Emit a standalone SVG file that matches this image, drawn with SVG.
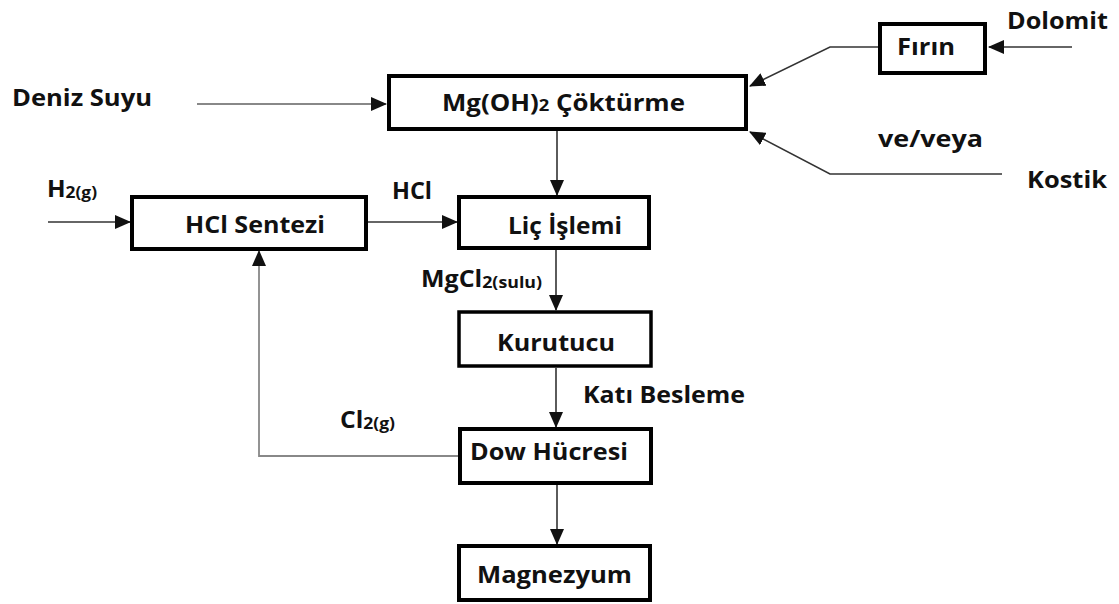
<svg xmlns="http://www.w3.org/2000/svg" width="1119" height="604" viewBox="0 0 1119 604">
<style>
.box{fill:#fff;stroke:#000;stroke-width:4}
.t{font-family:"Open Sans","Liberation Sans",sans-serif;font-weight:bold;font-size:22.5px;fill:#111}
.c{fill:none;stroke:#333;stroke-width:1.6}
.g{fill:none;stroke:#888;stroke-width:1.8}
</style>
<defs>
<marker id="ah" markerUnits="userSpaceOnUse" markerWidth="16" markerHeight="14" refX="15" refY="7" orient="auto">
<path d="M0,0 L16,7 L0,14 Z" fill="#111"/>
</marker>
</defs>
<rect width="1119" height="604" fill="#fff"/>
<g id="connectors">
<path class="c" d="M1072,47 L989,47" marker-end="url(#ah)"/>
<path class="c" d="M878,47 L830,47 L750,86" marker-end="url(#ah)"/>
<path class="c" d="M1002,174 L830,174 L750,132" marker-end="url(#ah)"/>
<path class="g" d="M197,104 L386,104" marker-end="url(#ah)"/>
<path class="c" d="M557,131 L557,195" marker-end="url(#ah)"/>
<path class="c" d="M48,222 L130,222" marker-end="url(#ah)"/>
<path class="c" d="M368,222 L457,222" marker-end="url(#ah)"/>
<path class="c" d="M556,250 L556,310" marker-end="url(#ah)"/>
<path class="c" d="M556,368 L556,427" marker-end="url(#ah)"/>
<path class="c" d="M557,485 L557,544" marker-end="url(#ah)"/>
<path class="g" d="M458,456 L259,456 L259,251" marker-end="url(#ah)"/>
</g>
<g id="firin"><rect class="box" x="880" y="24" width="105" height="49"/><text class="t" x="897" y="55" textLength="58" lengthAdjust="spacingAndGlyphs">Fırın</text></g>
<g id="mgoh"><rect class="box" x="389" y="76" width="357" height="53"/><text class="t" x="442" y="111" textLength="243" lengthAdjust="spacingAndGlyphs">Mg(OH)<tspan font-size="16">2</tspan> Çöktürme</text></g>
<g id="hclsentezi"><rect class="box" x="132" y="197" width="234" height="52"/><text class="t" x="185" y="233" textLength="140" lengthAdjust="spacingAndGlyphs">HCl Sentezi</text></g>
<g id="lic"><rect class="box" x="459" y="197" width="190" height="51"/><text class="t" x="508" y="234" textLength="114" lengthAdjust="spacingAndGlyphs">Liç İşlemi</text></g>
<g id="kurutucu"><rect class="box" x="459" y="312" width="192" height="54" style="stroke-width:3.5"/><text class="t" x="497" y="351" textLength="118" lengthAdjust="spacingAndGlyphs">Kurutucu</text></g>
<g id="dow"><rect class="box" x="460" y="429" width="191" height="54"/><text class="t" x="470" y="460" textLength="158" lengthAdjust="spacingAndGlyphs">Dow Hücresi</text></g>
<g id="magnezyum"><rect class="box" x="459" y="546" width="191" height="54"/><text class="t" x="477" y="583" textLength="155" lengthAdjust="spacingAndGlyphs">Magnezyum</text></g>
<g id="labels">
<text class="t" x="1007" y="29" textLength="101" lengthAdjust="spacingAndGlyphs">Dolomit</text>
<text class="t" x="878" y="147" textLength="105" lengthAdjust="spacingAndGlyphs">ve/veya</text>
<text class="t" x="1027" y="188" textLength="80" lengthAdjust="spacingAndGlyphs">Kostik</text>
<text class="t" x="12" y="106" textLength="140" lengthAdjust="spacingAndGlyphs">Deniz Suyu</text>
<text class="t" x="47" y="197" textLength="50" lengthAdjust="spacingAndGlyphs">H<tspan font-size="16" dy="1">2(g)</tspan></text>
<text class="t" x="392" y="199" textLength="40" lengthAdjust="spacingAndGlyphs">HCl</text>
<text class="t" x="421" y="287" textLength="121" lengthAdjust="spacingAndGlyphs">MgCl<tspan font-size="16" dy="1">2(sulu)</tspan></text>
<text class="t" x="583" y="403" textLength="162" lengthAdjust="spacingAndGlyphs">Katı Besleme</text>
<text class="t" x="340" y="428" textLength="55" lengthAdjust="spacingAndGlyphs">Cl<tspan font-size="16" dy="1">2(g)</tspan></text>
</g>
</svg>
